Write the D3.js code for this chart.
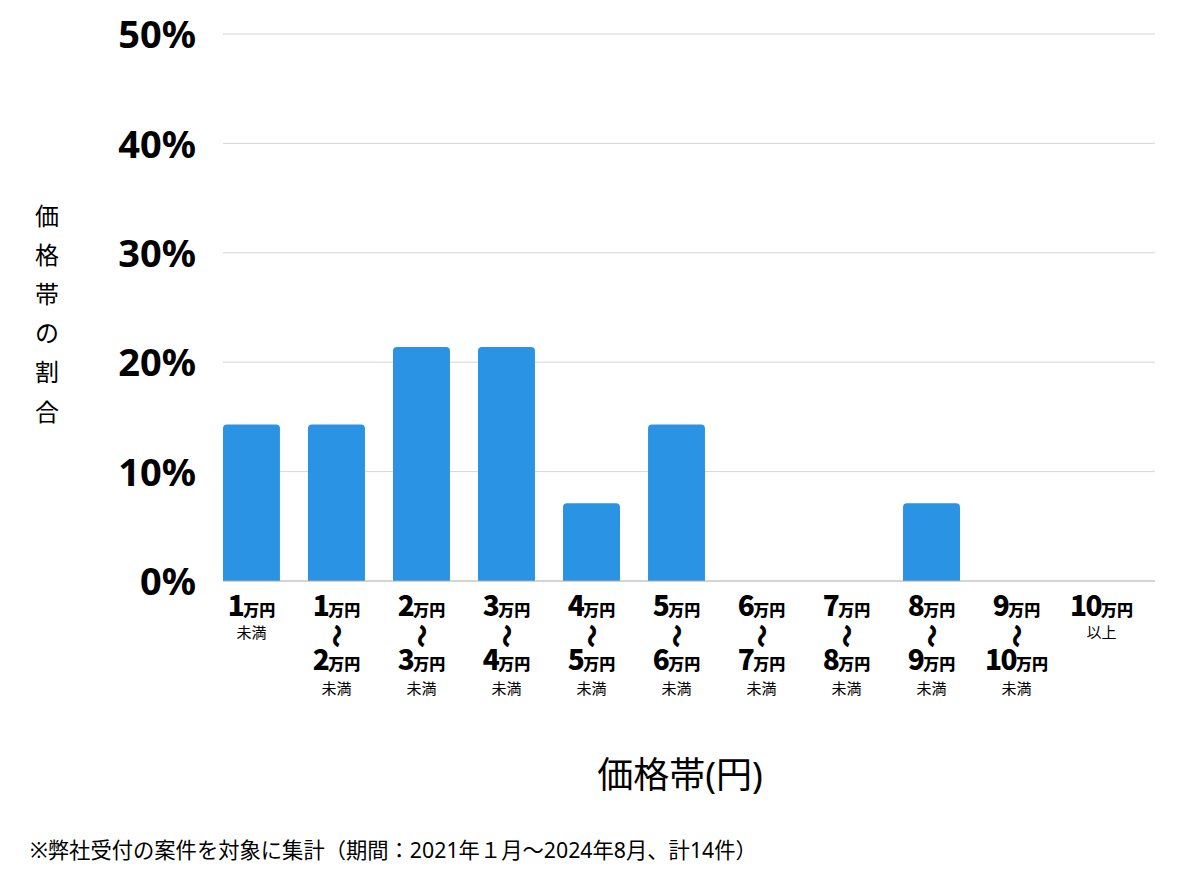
<!DOCTYPE html>
<html><head><meta charset="utf-8">
<script src="https://cdn.jsdelivr.net/npm/d3@7"></script>
<style>
body{margin:0;background:#fff;}
text{font-family:"Noto Sans","Noto Sans CJK JP",sans-serif;}
</style></head>
<body><svg id="c" width="1200" height="874"></svg>
<script>
const categories = ["1万円未満","1～2万円","2～3万円","3～4万円","4～5万円","5～6万円","6～7万円","7～8万円","8～9万円","9～10万円","10万円以上"];
const fromNums = ["1","1","2","3","4","5","6","7","8","9","10"];
const toNums   = [null,"2","3","4","5","6","7","8","9","10",null];
const suffixes = ["未満","未満","未満","未満","未満","未満","未満","未満","未満","未満","以上"];
const values = [14.3,14.3,21.4,21.4,7.1,14.3,0,0,7.1,0,0];
const yTicks = [0,10,20,30,40,50];
const yTitle = "価格帯の割合";
const xTitle = "価格帯(円)";
const note = "※弊社受付の案件を対象に集計（期間：2021年１月～2024年8月、計14件）";

const svg = d3.select("#c");
const L=223,R=1155,T=34,B=581;
const x = d3.scaleBand().domain(categories).range([L,1130]).paddingInner(0.33).paddingOuter(0);
const y = d3.scaleLinear().domain([0,50]).range([B,T]);

// grid
svg.append("g").selectAll("line").data(yTicks.filter(d=>d>0)).join("line")
  .attr("x1",L).attr("x2",R).attr("y1",d=>y(d)).attr("y2",d=>y(d))
  .attr("stroke","#d6d6d6").attr("stroke-width",1);

// y axis labels
const yAxis = d3.axisLeft(y).tickValues(yTicks).tickFormat(d=>d+"%").tickSize(0).tickPadding(27);
const ga = svg.append("g").attr("transform",`translate(${L},0)`).call(yAxis);
ga.select(".domain").remove();
ga.selectAll("text").attr("font-size",38).attr("font-weight","bold").attr("fill","#000")
  .attr("font-family","'Noto Sans','Noto Sans CJK JP',sans-serif").attr("dy","0.36em");

// bars
const r=4;
svg.append("g").selectAll("path").data(values.map((v,i)=>({c:categories[i],v}))).join("path")
  .filter(d=>d.v>0)
  .attr("fill","#2a93e4")
  .attr("d",d=>{
    const x0=x(d.c), w=x.bandwidth(), y0=y(d.v), y1=y(0);
    return `M${x0},${y1}V${y0+r}Q${x0},${y0} ${x0+r},${y0}H${x0+w-r}Q${x0+w},${y0} ${x0+w},${y0+r}V${y1}Z`;
  });

// baseline
svg.append("line").attr("x1",L).attr("x2",R).attr("y1",B).attr("y2",B).attr("stroke","#aaaaaa").attr("stroke-width",1.2);

// x labels
categories.forEach((c,i)=>{
  const cx = x(c)+x.bandwidth()/2;
  const g = svg.append("g");
  const row = (yb, num)=>{
    const t = g.append("text").attr("x",cx).attr("y",yb).attr("text-anchor","middle").attr("fill","#000");
    t.append("tspan").attr("font-size",28).attr("font-weight",900).attr("font-family","'Noto Sans CJK JP',sans-serif").attr("letter-spacing",-1.5).text(num);
    t.append("tspan").attr("font-size",16).attr("font-weight",900).attr("font-family","'Noto Sans CJK JP',sans-serif").text("万円");
  };
  row(616, fromNums[i]);
  if(toNums[i]===null){
    g.append("text").attr("x",cx).attr("y",638).attr("text-anchor","middle").attr("font-size",15)
     .attr("font-family","'Noto Sans CJK JP',sans-serif").attr("fill","#000").text(suffixes[i]);
  } else {
    g.append("text").attr("transform",`translate(${cx},636) rotate(90)`).attr("text-anchor","middle").attr("dy","0.35em")
     .attr("font-size",24).attr("font-weight",900).attr("font-family","'Noto Sans CJK JP',sans-serif").attr("fill","#000").text("～");
    row(670, toNums[i]);
    g.append("text").attr("x",cx).attr("y",694).attr("text-anchor","middle").attr("font-size",15)
     .attr("font-family","'Noto Sans CJK JP',sans-serif").attr("fill","#000").text(suffixes[i]);
  }
});

// y title vertical
const yt = svg.append("text").attr("text-anchor","middle").attr("font-size",24)
  .attr("font-family","'Noto Sans CJK JP',sans-serif").attr("fill","#000");
yTitle.split("").forEach((ch,i)=>{
  yt.append("tspan").attr("x",47).attr("y",216+i*39.2).attr("dy","0.36em").text(ch);
});

// x title
svg.append("text").attr("x",680).attr("y",775).attr("dy","0.36em").attr("text-anchor","middle")
  .attr("font-size",36).attr("font-family","'Noto Sans CJK JP',sans-serif").attr("fill","#000").text(xTitle);

// note
svg.append("text").attr("x",30).attr("y",850).attr("dy","0.36em").attr("font-size",21.3)
  .attr("font-family","'Noto Sans CJK JP',sans-serif").attr("fill","#000").text(note);
</script></body></html>
